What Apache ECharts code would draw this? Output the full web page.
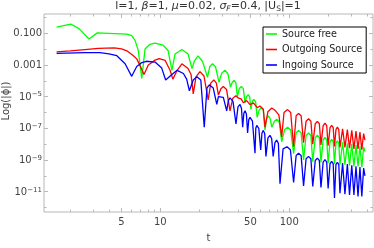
<!DOCTYPE html>
<html><head><meta charset="utf-8">
<script src="https://cdn.jsdelivr.net/npm/echarts@6/dist/echarts.min.js"></script>
<style>html,body{margin:0;padding:0;background:#fff}#c{width:374px;height:248px}</style>
</head><body><div id="c"></div>
<script>
// tick values (t on x, log10|phi| on y)
const xMajorTicks = [5, 10, 50, 100];
const xMinorTicks = [2, 3, 4, 6, 7, 8, 9, 20, 30, 40, 60, 70, 80, 90, 200, 300, 400];
const yMajorTicks = [-1, -3, -5, -7, -9, -11];
const yMinorTicks = [0, -2, -4, -6, -8, -10, -12];
const seriesNames = ['Source free', 'Outgoing Source', 'Ingoing Source'];
const seriesColors = ['#00ff00', '#ff0000', '#0000ff'];

// [t, log10|phi|]
const sourceFree = [
[1.57,-0.61],[2.02,-0.42],[2.34,-0.71],[2.80,-1.37],[3.25,-0.98],[4.4,-1.02],[5.5,-1.06],[6.0,-1.15],[6.37,-1.45],[6.75,-2.1],[7.18,-3.85],
[7.61,-2.0],[8.3,-1.7],[9.1,-1.63],[10.5,-1.75],[11.5,-2.11],[12.3,-3.34],[13.0,-2.31],[14.7,-2.03],[16.4,-2.31],[17.6,-3.23],
[18.4,-2.74],[19.6,-2.43],[21.3,-2.8],[23.2,-3.79],[24.2,-3.1],[25.4,-2.93],[26.8,-3.12],[28.5,-4.1],
[29.9,-3.52],[31.7,-3.34],[33.4,-3.55],[35.0,-4.4],[36.0,-4.12],[37.3,-3.97],[38.5,-4.12],[39.6,-5.0],
[40.9,-4.5],[42.5,-4.36],[44.0,-4.5],[45.4,-5.4],[46.6,-5.02],[48.0,-4.88],[49.3,-5.02],[50.4,-5.8],
[51.7,-5.32],[53.0,-5.18],[54.8,-5.32],[56.3,-6.3],[58.4,-5.85],[60.5,-5.7],[62.8,-5.85],[64.8,-7.11],
[66.7,-6.38],[68.8,-6.21],[71.0,-6.38],[73.1,-6.93],[76.5,-6.57],[80.0,-6.42],[83.5,-6.6],[87.3,-7.85],
[92,-7.08],[97,-6.93],[102.5,-7.1],[108,-8.6],[113,-7.28],[118,-7.13],[123.5,-7.28],[129,-9.0],
[135,-7.45],[141,-7.3],[147,-7.45],[152,-9.1],[159,-7.59],[165,-7.44],[171,-7.59],[176,-9.15],
[183,-7.73],[189,-7.58],[195,-7.73],[200,-9.2],[207,-7.85],[213,-7.7],[219,-7.85],[224,-9.25],
[230,-7.94],[236,-7.79],[242,-7.94],[247,-9.3],[259,-7.88],[270,-9.3],[282,-7.94],[293,-9.35],
[305,-8.0],[317,-9.4],[329,-8.06],[341,-9.4],[353,-8.13],[365,-9.45],[377,-8.19],[386,-8.46]
];
const outgoingSource = [
[1.57,-2.18],[2.0,-2.12],[2.6,-2.03],[3.3,-1.96],[4.4,-1.92],[5.0,-1.99],[5.5,-2.11],[6.18,-2.42],[6.56,-2.62],[6.95,-3.03],[7.47,-3.6],
[8.07,-3.0],[9.1,-2.7],[9.8,-2.6],[10.9,-2.72],[11.9,-3.34],[12.5,-3.9],[13.5,-3.34],[14.7,-2.93],[16.4,-3.23],[17.3,-3.6],[18.0,-4.83],
[18.9,-3.75],[20.3,-3.42],[21.8,-3.7],[23.5,-5.2],[24.6,-4.15],[26.0,-3.95],[27.2,-4.15],[28.2,-4.9],
[29.5,-4.5],[30.8,-4.36],[32.6,-4.55],[34.7,-5.9],[36.5,-5.1],[38.5,-4.95],[40.5,-5.1],[42.3,-5.14],[44.0,-5.39],
[46.7,-5.25],[49.6,-5.51],[52.6,-5.39],[56.5,-5.7],[59.2,-5.59],[62.9,-5.8],[64.8,-6.93],
[68.3,-5.95],[73.1,-5.72],[77.9,-5.88],[83,-6.15],[87.3,-7.54],[91,-6.0],[97,-5.82],[102.5,-6.0],[108,-8.16],
[113,-6.21],[118,-6.06],[123.5,-6.21],[129,-7.9],[135,-6.55],[141,-6.4],[147,-6.55],[152,-8.0],
[159,-6.71],[165,-6.56],[171,-6.71],[176,-8.05],[183,-6.83],[189,-6.68],[195,-6.83],[200,-8.1],
[207,-6.96],[213,-6.81],[219,-6.96],[224,-8.15],[230,-7.08],[236,-6.93],[242,-7.08],[247,-8.2],
[259,-7.03],[270,-8.2],[282,-7.08],[293,-8.25],[305,-7.13],[317,-8.3],[329,-7.17],[341,-8.3],
[353,-7.23],[365,-8.35],[377,-7.33],[386,-7.75]
];
const ingoingSource = [
[1.57,-2.27],[2.6,-2.23],[3.4,-2.22],[4.0,-2.3],[4.6,-2.42],[5.33,-2.93],[6.0,-3.72],[6.56,-3.1],[7.2,-2.85],[7.8,-2.77],[9.1,-2.82],
[10.25,-3.2],[11.0,-3.95],[12.3,-3.6],[13.5,-3.34],[15.1,-3.54],[16.0,-3.9],[16.8,-4.63],[18.0,-3.95],[19.2,-3.74],[20.6,-3.95],[21.9,-6.93],
[23.0,-4.45],[24.0,-4.26],[25.7,-4.45],[27.4,-5.49],[28.2,-5.0],[29.0,-4.88],[30.8,-5.05],[32.7,-5.9],
[33.7,-5.25],[34.7,-5.08],[36.6,-5.3],[38.6,-6.72],[40.0,-5.65],[41.5,-5.49],[42.6,-5.75],[43.5,-6.93],
[44.4,-6.05],[45.4,-5.9],[46.5,-6.1],[47.5,-7.3],[48.5,-6.45],[49.6,-6.31],[51.8,-6.55],[54.2,-8.57],
[55.0,-7.0],[55.9,-6.82],[58.0,-7.0],[60.0,-8.36],[61.4,-7.3],[62.9,-7.13],[64.5,-7.35],[65.9,-8.77],
[68.3,-7.6],[70.8,-7.44],[73.0,-7.65],[75.0,-8.77],[77.4,-7.9],[79.8,-7.74],[82.3,-7.95],[84.7,-10.5],
[89.5,-8.3],[96,-8.16],[102,-8.35],[108,-10.42],[113,-8.72],[118,-8.57],[123.5,-8.72],[129,-10.63],
[135,-8.92],[141,-8.77],[147,-8.92],[152,-10.67],[159,-9.03],[165,-8.88],[171,-9.03],[176,-10.73],
[183,-9.13],[189,-8.98],[195,-9.13],[200,-10.8],[207,-9.23],[213,-9.08],[219,-9.23],[224,-11.4],
[230,-9.29],[236,-9.14],[242,-9.29],[247,-11.1],[259,-9.2],[270,-11.15],[282,-9.26],[293,-11.2],
[305,-9.33],[317,-11.2],[329,-9.39],[341,-11.3],[353,-9.45],[365,-11.3],[377,-9.51],[386,-10.0]
];

const lg = Math.log10;
const X_MIN = 0.098, X_MAX = 2.649, Y_MIN = -12.28, Y_MAX = 0.212;
const frameColor = '#b8b8b8';
const labelColor = '#444';
const FONT = 'DejaVu Sans';

function xAx(pos, ticks, len, withLabels) {
  return {
    type: 'value', position: pos, min: X_MIN, max: X_MAX, gridIndex: 0,
    axisLine: { show: false, onZero: false }, splitLine: { show: false },
    axisTick: { show: true, inside: true, length: len, customValues: ticks.map(lg), lineStyle: { color: frameColor, width: 1 } },
    axisLabel: withLabels ? {
      show: true, customValues: ticks.map(lg), margin: 5, fontSize: 10, color: labelColor, fontFamily: FONT,
      formatter: v => String(Math.round(Math.pow(10, v)))
    } : { show: false },
    name: withLabels ? 't' : '', nameLocation: 'middle', nameGap: 21,
    nameTextStyle: { fontSize: 10, color: labelColor, fontFamily: FONT }
  };
}
function yAx(pos, ticks, len, withLabels) {
  return {
    type: 'value', position: pos, min: Y_MIN, max: Y_MAX, gridIndex: 0,
    axisLine: { show: false, onZero: false }, splitLine: { show: false },
    axisTick: { show: true, inside: true, length: len, customValues: ticks, lineStyle: { color: frameColor, width: 1 } },
    axisLabel: withLabels ? {
      show: true, customValues: ticks, margin: 2, fontSize: 10, color: labelColor, fontFamily: FONT,
      formatter: v => {
        const e = Math.round(v);
        if (e === -1) return '0.100';
        if (e === -3) return '0.001';
        return '{b|10}{s|\u2212' + (-e) + '}';
      },
      rich: {
        b: { fontSize: 10, color: labelColor, fontFamily: FONT, verticalAlign: 'bottom', lineHeight: 11 },
        s: { fontSize: 7, color: labelColor, fontFamily: FONT, verticalAlign: 'top', lineHeight: 8, padding: [0, 0, 5, 0] }
      }
    } : { show: false }
  };
}

const chart = echarts.init(document.getElementById('c'), null, { renderer: 'canvas' });
chart.setOption({
  animation: false,
  backgroundColor: '#fff',
  title: {
    text: 'l=1, {g|\u03b2}=1, {g|\u03bc}=0.02, {g|\u03c3}{sub|F}=0.4, |U{sub2|S}|=1',
    left: 208, top: 0, textAlign: 'center', padding: 0,
    textStyle: {
      fontSize: 11, fontWeight: 'normal', color: '#333', fontFamily: FONT, lineHeight: 13,
      rich: {
        g: { fontSize: 11, fontStyle: 'italic', color: '#333', fontFamily: FONT },
        sub: { fontSize: 7.5, fontStyle: 'italic', color: '#333', fontFamily: FONT, verticalAlign: 'bottom', lineHeight: 9, padding: [3, 0, 0, 0] },
        sub2: { fontSize: 7.5, color: '#333', fontFamily: FONT, verticalAlign: 'bottom', lineHeight: 9, padding: [3, 0, 0, 0] }
      }
    }
  },
  grid: { left: 44, right: 1, top: 14, bottom: 31, show: true, borderColor: frameColor, borderWidth: 1, backgroundColor: 'transparent' },
  legend: {
    data: seriesNames, orient: 'vertical', left: 263, top: 27,
    padding: [1, 4, 2, 3], itemGap: 3.5, itemWidth: 11, itemHeight: 1.6, icon: 'rect',
    backgroundColor: '#fff', borderColor: '#000', borderWidth: 1, borderRadius: 0,
    textStyle: { fontSize: 9.6, color: '#222', fontFamily: FONT, lineHeight: 12 }
  },
  xAxis: [
    xAx('bottom', xMajorTicks, 4, true),
    xAx('bottom', xMinorTicks, 2.5, false),
    xAx('top', xMajorTicks, 4, false),
    xAx('top', xMinorTicks, 2.5, false)
  ],
  yAxis: [
    yAx('left', yMajorTicks, 4, true),
    yAx('left', yMinorTicks, 2.5, false),
    yAx('right', yMajorTicks, 4, false),
    yAx('right', yMinorTicks, 2.5, false)
  ],
  graphic: [{
    type: 'text', x: 6, y: 101, rotation: Math.PI / 2,
    style: { text: 'Log(|\u03d5|)', fontSize: 10, fontFamily: FONT, fill: labelColor, align: 'center', verticalAlign: 'middle' }
  }],
  series: [sourceFree, outgoingSource, ingoingSource].map((d, i) => ({
    name: seriesNames[i], type: 'line', xAxisIndex: 0, yAxisIndex: 0,
    symbol: 'none', showSymbol: false, smooth: false, clip: true,
    lineStyle: { color: seriesColors[i], width: 1.3 }, itemStyle: { color: seriesColors[i] },
    data: d.map(p => [lg(p[0]), p[1]])
  }))
});
</script></body></html>
